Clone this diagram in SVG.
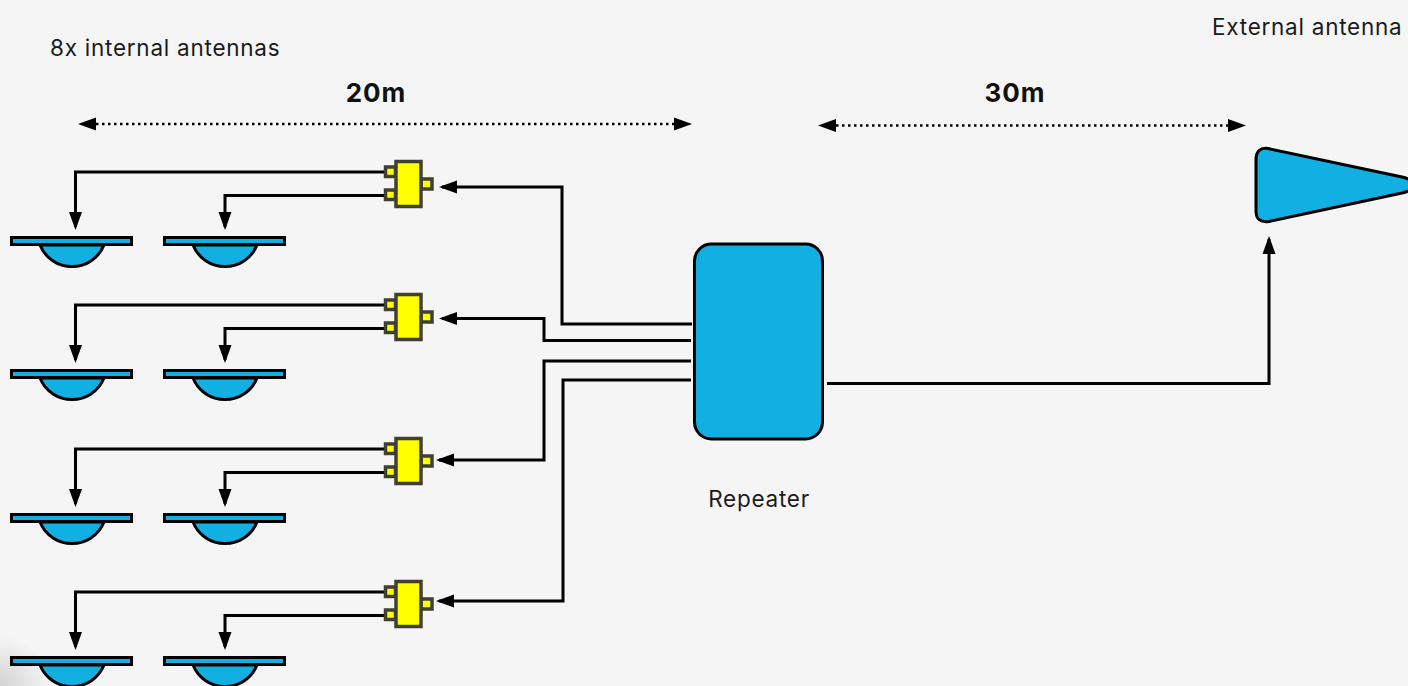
<svg xmlns="http://www.w3.org/2000/svg" width="1408" height="686" viewBox="0 0 1408 686">
<style>
.t{font-family:"Inter","Noto Sans","Liberation Sans",sans-serif;font-size:22.500px;letter-spacing:.75px;fill:#1a1a1a}
.b{font-family:"Inter","Noto Sans","Liberation Sans",sans-serif;font-size:26px;letter-spacing:1px;font-weight:700;fill:#111}
.c{fill:none;stroke:#000;stroke-width:3}
.d{fill:none;stroke:#000;stroke-width:2.500;stroke-dasharray:2.500 3.500}
.blue{fill:#12b0e2;stroke:#000;stroke-width:3}
.y{fill:#ffff00;stroke:#3f3f32;stroke-width:3.500}
</style>
<defs>
<marker id="a" markerUnits="userSpaceOnUse" markerWidth="20" markerHeight="14" refX="15" refY="7" orient="auto"><path d="M0 0.500L18 7L0 13.500Z" fill="#000"/></marker>
<g id="ant"><path class="blue" d="M40 245A34.500 34.500 0 0 0 104 245Z"/><rect class="blue" x="11.500" y="237.500" width="120" height="7"/></g>
<g id="spl"><rect class="y" x="385.500" y="167" width="10" height="9.500"/><rect class="y" x="385.500" y="190" width="10" height="9.500"/><rect class="y" x="421" y="179" width="11" height="10"/><rect class="y" x="396" y="161.500" width="25" height="45"/></g>
<radialGradient id="sh" gradientUnits="userSpaceOnUse" cx="0" cy="686" r="50"><stop offset="0" stop-color="#d2d2d2"/><stop offset="1" stop-color="#f5f5f5"/></radialGradient>
</defs>
<rect width="1408" height="686" fill="#f5f5f5"/>
<rect x="0" y="636" width="50" height="50" fill="url(#sh)"/>
<g id="connectors">
<path class="c" marker-end="url(#a)" d="M386 172H75.500V227"/>
<path class="c" marker-end="url(#a)" d="M386 195.500H225V227"/>
<path class="c" marker-end="url(#a)" d="M386 305H75.500V360"/>
<path class="c" marker-end="url(#a)" d="M386 328.500H225V360"/>
<path class="c" marker-end="url(#a)" d="M386 449H75.500V504"/>
<path class="c" marker-end="url(#a)" d="M386 472.500H225V504"/>
<path class="c" marker-end="url(#a)" d="M386 592H75.500V647"/>
<path class="c" marker-end="url(#a)" d="M386 615.500H225V647"/>
<path class="c" marker-end="url(#a)" d="M692 324H562V187H442"/>
<path class="c" marker-end="url(#a)" d="M691 340.500H544V318.500H442"/>
<path class="c" marker-end="url(#a)" d="M691 361H544V460H439"/>
<path class="c" marker-end="url(#a)" d="M691 380H563V601H439"/>
<path class="c" marker-end="url(#a)" d="M827 383.500H1269V239"/>
<path class="d" d="M96 124H674"/>
<path class="d" d="M836 125.500H1228"/>
<path fill="#000" d="M78 124L96 117.500V130.500ZM692 124L674 117.500V130.500ZM818 125.500L836 119V132ZM1246 125.500L1228 119V132Z"/>
</g>
<g id="antenna-1-1"><use href="#ant"/></g>
<g id="antenna-1-2"><use href="#ant" x="153"/></g>
<g id="antenna-2-1"><use href="#ant" y="133"/></g>
<g id="antenna-2-2"><use href="#ant" x="153" y="133"/></g>
<g id="antenna-3-1"><use href="#ant" y="277"/></g>
<g id="antenna-3-2"><use href="#ant" x="153" y="277"/></g>
<g id="antenna-4-1"><use href="#ant" y="420"/></g>
<g id="antenna-4-2"><use href="#ant" x="153" y="420"/></g>
<g id="splitter-1"><use href="#spl"/></g>
<g id="splitter-2"><use href="#spl" y="133"/></g>
<g id="splitter-3"><use href="#spl" y="277"/></g>
<g id="splitter-4"><use href="#spl" y="420"/></g>
<g id="repeater"><rect class="blue" x="694.500" y="244" width="128" height="195" rx="17"/><text class="t" x="759" y="507" text-anchor="middle">Repeater</text></g>
<g id="external-antenna"><path class="blue" d="M1268 148.500L1402 177Q1414 180 1414 185Q1414 190 1402 193L1269 221.500Q1256 223 1256 211V160Q1256 147 1268 148.500Z"/><text class="t" x="1212" y="35">External antenna</text></g>
<text class="t" x="50" y="56">8x internal antennas</text>
<text class="b" x="376" y="101.500" text-anchor="middle">20m</text>
<text class="b" x="1015" y="101.500" text-anchor="middle">30m</text>
</svg>
